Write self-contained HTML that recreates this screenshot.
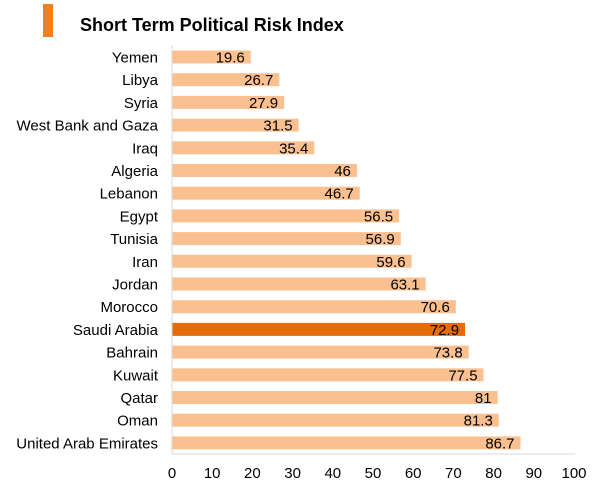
<!DOCTYPE html>
<html><head><meta charset="utf-8"><style>
body{margin:0;background:#fff;width:610px;height:498px;overflow:hidden;font-family:"Liberation Sans",sans-serif}
</style></head><body>
<svg width="610" height="498" xmlns="http://www.w3.org/2000/svg">
<rect x="43" y="4" width="10" height="33" fill="#f07f22"/>
<text x="80" y="31" font-size="18" font-weight="bold" fill="#000">Short Term Political Risk Index</text>
<g id="plot"></g>
</svg>
<script>
const categories=["Yemen","Libya","Syria","West Bank and Gaza","Iraq","Algeria","Lebanon","Egypt","Tunisia","Iran","Jordan","Morocco","Saudi Arabia","Bahrain","Kuwait","Qatar","Oman","United Arab Emirates"];
const values=[19.6,26.7,27.9,31.5,35.4,46,46.7,56.5,56.9,59.6,63.1,70.6,72.9,73.8,77.5,81,81.3,86.7];
const highlight=["Saudi Arabia"];
const ticks=[0,10,20,30,40,50,60,70,80,90,100];
const NS="http://www.w3.org/2000/svg";
const g=document.getElementById("plot");
const x0=172,sx=4.02,y0=57,step=22.7,bh=13;
const xs=v=>x0+v*sx, ys=i=>y0+i*step;
function mk(t,a){const e=document.createElementNS(NS,t);for(const k in a)e.setAttribute(k,a[k]);g.appendChild(e);return e;}
categories.forEach((c,i)=>{
  const r=mk("rect",{x:xs(0),y:ys(i)-bh/2,width:xs(values[i])-xs(0),height:bh,fill:highlight.includes(c)?"#e46c0a":"#fac090"});
  
  
  const l=mk("text",{x:158,y:ys(i)+5.5,"text-anchor":"end","font-size":"15",fill:"#000"});
  l.textContent=c;
  
  
  const v=mk("text",{x:xs(values[i])-6,y:ys(i)+5.5,"text-anchor":"end","font-size":"15",fill:"#000"});
  v.textContent=values[i];
  
  
});
const ax=mk("line",{x1:x0,y1:45,x2:x0,y2:454,stroke:"#d9d9d9"});


const bx=mk("line",{x1:x0,y1:454,x2:575,y2:454,stroke:"#d9d9d9"});


ticks.forEach(t=>{
  const e=mk("text",{x:xs(t),y:478,"text-anchor":"middle","font-size":"15",fill:"#000"});
  e.textContent=t;
  
  
});
</script>
</body></html>
